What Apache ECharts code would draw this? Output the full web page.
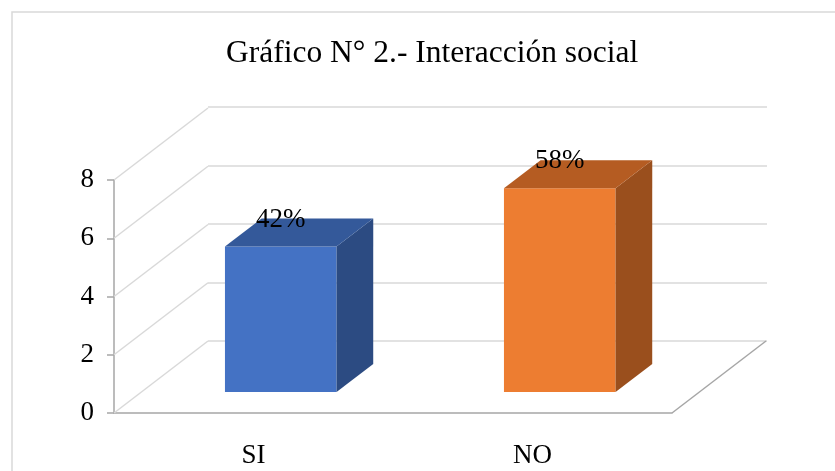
<!DOCTYPE html>
<html>
<head>
	<meta charset="utf-8">
	<title>Interacción social</title>
	<style type="text/css">
		body{
			margin: 0px;
			background: #fff;
		}
		.chart{
			width: 835px;
			height: 471px;
		}
	</style>
	<script type="text/javascript" src="https://cdn.jsdelivr.net/npm/echarts@6/dist/echarts.min.js"></script>
</head>
<body>
	<div id="chart" class="chart"></div>
	<script type="text/javascript">
		// datos
		var categorias = ['SI', 'NO'];
		var valores = [5, 7];
		var ticksY = [0, 2, 4, 6, 8];

		// colores de las caras del 3D
		var frente = ['#4472C4', '#ED7D31'],
			arriba = ['#34599A', '#B55C22'],
			lado = ['#2C4B82', '#9A4F1D'];

		// vector de profundidad (px) y posicion de la barra en profundidad
		var DX = 94, DY = -72;
		var d0 = 0.29, dd = 0.39;
		var FONT = 'Liberation Serif, Times New Roman, serif';

		var total = valores.reduce(function(a, b){ return a + b; }, 0);

		function barras(params, api){
			var i = api.value(0),
				v = api.value(1);
			var base = api.coord([i, 0]),
				cima = api.coord([i, v]);
			var w = api.size([1, 0])[0] * 0.40;
			var xc = base[0] + d0 * DX,
				yb = base[1] + d0 * DY,
				yt = cima[1] + d0 * DY;
			var xl = xc - w / 2, xr = xc + w / 2;
			var ox = dd * DX, oy = dd * DY;
			return {
				type: 'group',
				children: [{
					type: 'polygon',
					shape: {points: [[xl, yb], [xr, yb], [xr, yt], [xl, yt]]},
					style: {fill: frente[i]}
				}, {
					type: 'polygon',
					shape: {points: [[xr, yt], [xr + ox, yt + oy], [xr + ox, yb + oy], [xr, yb]]},
					style: {fill: lado[i]}
				}, {
					type: 'polygon',
					shape: {points: [[xl, yt], [xr, yt], [xr + ox, yt + oy], [xl + ox, yt + oy]]},
					style: {fill: arriba[i]}
				}, {
					type: 'text',
					x: xc,
					y: yt - 27,
					style: {
						text: Math.round(v / total * 100) + '%',
						font: '27px ' + FONT,
						fill: '#000',
						align: 'center',
						verticalAlign: 'middle'
					}
				}]
			};
		}

		function paredes(params, api){
			var v = api.value(0);
			var cs = params.coordSys;
			var y = api.coord([0, v])[1];
			var hijos = [{
				type: 'line',
				shape: {x1: cs.x, y1: y, x2: cs.x + DX, y2: y + DY},
				style: {stroke: '#D9D9D9', lineWidth: 1.5}
			}];
			if(v === 0){
				hijos.push({
					type: 'line',
					shape: {x1: cs.x + cs.width, y1: y, x2: cs.x + cs.width + DX, y2: y + DY},
					style: {stroke: '#A6A6A6', lineWidth: 1.5}
				});
			}
			return {type: 'group', children: hijos};
		}

		window.onload = function(){
			var chart = echarts.init(document.getElementById('chart'));
			chart.setOption({
				animation: false,
				backgroundColor: '#fff',
				title: {
					text: 'Gráfico N° 2.- Interacción social',
					left: 221,
					top: 33,
					textStyle: {
						fontFamily: FONT,
						fontSize: 31.5,
						fontWeight: 'normal',
						color: '#000'
					}
				},
				graphic: [{
					type: 'rect',
					shape: {x: 12, y: 12, width: 840, height: 480},
					style: {fill: 'none', stroke: '#D9D9D9', lineWidth: 1.5},
					silent: true
				}],
				grid: [{
					left: 114,
					right: 163,
					top: 180,
					bottom: 58
				}, {
					left: 208,
					right: 68,
					top: 107,
					bottom: 130
				}],
				xAxis: [{
					type: 'category',
					data: categorias,
					axisLine: {lineStyle: {color: '#A6A6A6', width: 1.5}},
					axisTick: {length: 7, lineStyle: {color: '#A6A6A6', width: 1.5}},
					axisLabel: {
						margin: 29,
						fontFamily: FONT,
						fontSize: 27,
						color: '#000'
					}
				}, {
					type: 'category',
					gridIndex: 1,
					data: categorias,
					show: false
				}],
				yAxis: [{
					type: 'value',
					min: 0,
					max: 8,
					interval: 2,
					axisLine: {show: true, lineStyle: {color: '#A6A6A6', width: 1.5}},
					axisTick: {show: true, length: 7, lineStyle: {color: '#A6A6A6', width: 1.5}},
					splitLine: {show: false},
					axisLabel: {
						margin: 20,
						fontFamily: FONT,
						fontSize: 27,
						color: '#000'
					}
				}, {
					type: 'value',
					gridIndex: 1,
					min: 0,
					max: 8,
					interval: 2,
					axisLine: {show: false},
					axisTick: {show: false},
					axisLabel: {show: false},
					splitLine: {show: true, lineStyle: {color: '#D9D9D9', width: 1.5}}
				}],
				series: [{
					type: 'custom',
					xAxisIndex: 0,
					yAxisIndex: 0,
					renderItem: paredes,
					data: ticksY.map(function(t){ return [t]; }),
					encode: {y: 0},
					z: 1,
					silent: true
				}, {
					type: 'custom',
					xAxisIndex: 0,
					yAxisIndex: 0,
					renderItem: barras,
					data: valores.map(function(v, i){ return [i, v]; }),
					encode: {x: 0, y: 1},
					z: 3,
					silent: true
				}]
			});
		};
	</script>
</body>
</html>
